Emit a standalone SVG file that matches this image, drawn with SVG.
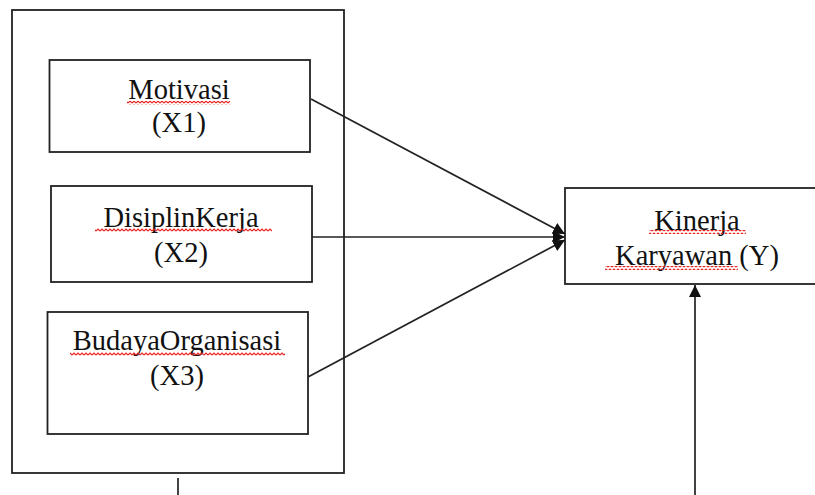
<svg xmlns="http://www.w3.org/2000/svg" width="815" height="495" viewBox="0 0 815 495">
<style>
.box{fill:#fff;stroke:#222;stroke-width:1.8}
.lbl{font-family:'Liberation Serif','Times New Roman','DejaVu Serif',serif;font-size:28.5px;fill:#111;text-anchor:middle}
.ln{stroke:#222;stroke-width:1.7;fill:none}
.sq{fill:url(#squig)}
</style>
<defs>
<pattern id="squig" patternUnits="userSpaceOnUse" width="4" height="4">
<path d="M0 3 L2 1 L4 3" stroke="#e82020" stroke-width="1.2" fill="none"/>
</pattern>
<marker id="ah" markerUnits="userSpaceOnUse" markerWidth="14" markerHeight="14" refX="12" refY="7" orient="auto">
<path d="M0 1 L12 7 L0 13 Z" fill="#111"/>
</marker>
</defs>
<rect id="outer" class="box" x="12" y="10" width="332" height="463"/>
<g id="x1">
<rect class="box" x="49.5" y="60" width="260.5" height="92"/>
<text class="lbl" x="179" y="99">Motivasi</text>
<rect class="sq" x="127" y="101" width="103" height="4"/>
<text class="lbl" x="179" y="132">(X1)</text>
</g>
<g id="x2">
<rect class="box" x="51" y="186" width="261" height="96"/>
<text class="lbl" x="181" y="227">DisiplinKerja</text>
<rect class="sq" x="95" y="228" width="177" height="4"/>
<text class="lbl" x="181" y="262">(X2)</text>
</g>
<g id="x3">
<rect class="box" x="47.5" y="312" width="260.5" height="122"/>
<text class="lbl" x="177" y="350">BudayaOrganisasi</text>
<rect class="sq" x="70" y="352" width="215" height="4"/>
<text class="lbl" x="177" y="385">(X3)</text>
</g>
<g id="y">
<rect class="box" x="565" y="188" width="264" height="96"/>
<text class="lbl" x="697" y="230">Kinerja</text>
<rect class="sq" x="649" y="230" width="97" height="4"/>
<text class="lbl" x="697" y="265">Karyawan (Y)</text>
<rect class="sq" x="605" y="266" width="133" height="4"/>
</g>
<g id="connectors">
<line class="ln" x1="311" y1="99" x2="565" y2="234" marker-end="url(#ah)"/>
<line class="ln" x1="312" y1="237" x2="565" y2="237" marker-end="url(#ah)"/>
<line class="ln" x1="308" y1="377" x2="565" y2="240" marker-end="url(#ah)"/>
<line class="ln" x1="695" y1="495" x2="695" y2="285" marker-end="url(#ah)"/>
<line class="ln" x1="178" y1="478" x2="178" y2="495"/>
</g>
</svg>
